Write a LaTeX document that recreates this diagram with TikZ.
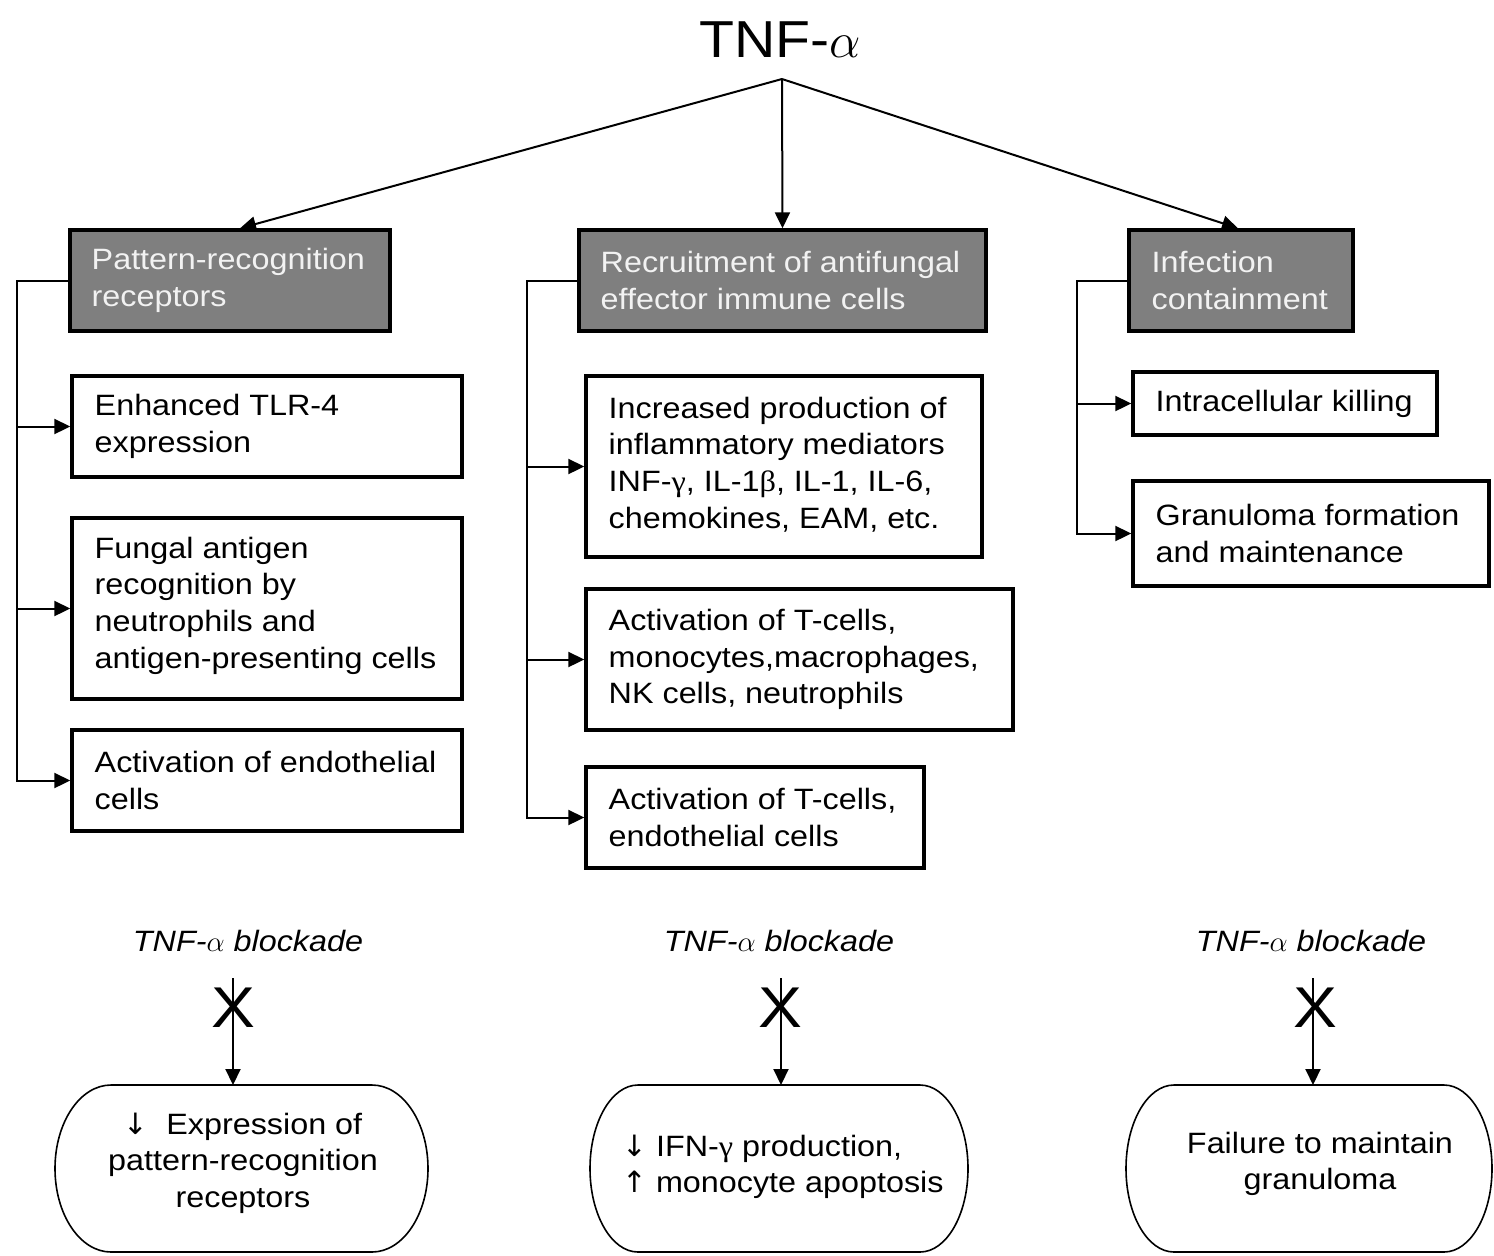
\documentclass[tikz,border=0pt]{standalone}
\usepackage{fontspec}
\usepackage{graphicx}
\setmainfont{Liberation Sans}[FakeStretch=1.1]
\newfontfamily\grk{Liberation Serif}[FakeStretch=1.1]
\newfontfamily\arrowfont{DejaVu Sans}
\usetikzlibrary{arrows.meta}
\definecolor{boxgray}{HTML}{7F7F7F}
\definecolor{boxtext}{HTML}{F2F2F2}
\newcommand\dnarr{{\arrowfont ↓}}
\newcommand\uparr{{\arrowfont ↑}}
% stadium outline: left, top, right, bottom, horizontal radius (px units)
\newcommand\stadiumpath[5]{%
  \pgfmathsetmacro\stA{#1+#5}%
  \pgfmathsetmacro\stB{#3-#5}%
  \pgfmathsetmacro\stKx{0.5523*#5}%
  \pgfmathsetmacro\stKy{0.5523*(#4-#2)/2}%
  \pgfmathsetmacro\stM{(#2+#4)/2}%
  \draw[oval] (\stA,#2) -- (\stB,#2)
    .. controls (\stB+\stKx,#2) and (#3,\stM-\stKy) .. (#3,\stM)
    .. controls (#3,\stM+\stKy) and (\stB+\stKx,#4) .. (\stB,#4)
    -- (\stA,#4)
    .. controls (\stA-\stKx,#4) and (#1,\stM+\stKy) .. (#1,\stM)
    .. controls (#1,\stM-\stKy) and (\stA-\stKx,#2) .. cycle;}
\begin{document}
\begin{tikzpicture}[x=0.5pt,y=-0.5pt,
  box/.style={draw=black, line width=1.7pt, inner sep=0pt, fill=white},
  gbox/.style={box, fill=boxgray},
  txt/.style={inner sep=0pt, align=left, anchor=west, font=\fontsize{14.7}{18.3}\selectfont},
  gtxt/.style={txt, text=boxtext},
  ctxt/.style={txt, align=center, anchor=center},
  conn/.style={line width=1pt},
  arr/.style={conn, -{Triangle[length=8pt,width=7.5pt]}},
  oval/.style={line width=0.8pt},
  blk/.style={inner sep=0pt, anchor=base, font=\fontsize{14.7}{18.3}\selectfont\itshape},
  xmark/.style={inner sep=0pt, font=\fontsize{23}{23}\selectfont}]
\useasboundingbox (0,0) rectangle (1494,1255);

% title
\node[inner sep=0pt, anchor=base, font=\fontsize{26}{30}\selectfont] (tnf) at (780,57) {TNF-$\alpha$};
\coordinate (apex) at (782,79);

% header boxes
\node[gbox, minimum width=160pt, minimum height=50.5pt] (prr) at (230,280.5) {};
\node[gtxt] (prrt) at ([xshift=11.5pt]prr.west) {Pattern-recognition\\receptors};
\node[gbox, minimum width=203.5pt, minimum height=50.5pt] (rec) at (782.5,280.5) {};
\node[gtxt] (rect) at ([xshift=11.5pt]rec.west) {Recruitment of antifungal\\effector immune cells};
\node[gbox, minimum width=112pt, minimum height=50.5pt] (inf) at (1241,280.5) {};
\node[gtxt] (inft) at ([xshift=12pt]inf.west) {Infection\\containment};

% top connectors
\draw[arr] (apex) -- ([xshift=5pt]prr.north);
\draw[arr] (apex) -- (rec.north);
\draw[arr] (apex) -- ([xshift=-1.5pt]inf.north);

% left column
\node[box, minimum width=195pt, minimum height=50.5pt] (l1) at (267,426.5) {};
\node[txt] (l1t) at ([xshift=12pt]l1.west) {Enhanced TLR-4\\expression};
\node[box, minimum width=195pt, minimum height=90.5pt] (l2) at (267,608.5) {};
\node[txt] (l2t) at ([xshift=12pt,yshift=1.5pt]l2.west) {Fungal antigen\\recognition by\\neutrophils and\\antigen-presenting cells};
\node[box, minimum width=195pt, minimum height=50.5pt] (l3) at (267,780.5) {};
\node[txt] (l3t) at ([xshift=12pt]l3.west) {Activation of endothelial\\cells};

\coordinate (LA) at (17,280.5);
\draw[arr] (prr.west) -- (LA) |- (l3.west);
\draw[arr] (l1.west -| LA) -- (l1.west);
\draw[arr] (l2.west -| LA) -- (l2.west);

% middle column
\node[box, minimum width=198pt, minimum height=90.5pt] (m1) at (784,466.5) {};
\node[txt] (m1t) at ([xshift=12pt,yshift=1pt]m1.west) {Increased production of\\inflammatory mediators\\INF-{\grk γ}, IL-1{\grk β}, IL-1, IL-6,\\chemokines, EAM, etc.};
\node[box, minimum width=213.5pt, minimum height=70.5pt] (m2) at (799.5,659.5) {};
\node[txt] (m2t) at ([xshift=12pt]m2.west) {Activation of T-cells,\\monocytes,macrophages,\\NK cells, neutrophils};
\node[box, minimum width=169pt, minimum height=50.5pt] (m3) at (755,817.5) {};
\node[txt] (m3t) at ([xshift=12pt]m3.west) {Activation of T-cells,\\endothelial cells};

\coordinate (LB) at (527,280.5);
\draw[arr] (rec.west) -- (LB) |- (m3.west);
\draw[arr] (m1.west -| LB) -- (m1.west);
\draw[arr] (m2.west -| LB) -- (m2.west);

% right column
\node[box, minimum width=152pt, minimum height=31.5pt] (r1) at (1285,403.5) {};
\node[txt] (r1t) at ([xshift=12pt]r1.west) {Intracellular killing};
\node[box, minimum width=178pt, minimum height=52.5pt] (r2) at (1311,533.5) {};
\node[txt] (r2t) at ([xshift=12pt]r2.west) {Granuloma formation\\and maintenance};

\coordinate (LC) at (1077,280.5);
\draw[arr] (inf.west) -- (LC) |- (r2.west);
\draw[arr] (r1.west -| LC) -- (r1.west);

% blockade labels
\node[blk] (k1) at (248,951) {TNF-$\alpha$ blockade};
\node[blk] (k2) at (779,951) {TNF-$\alpha$ blockade};
\node[blk] (k3) at (1311,951) {TNF-$\alpha$ blockade};

% bottom outcome shapes
\stadiumpath{55}{1085}{428}{1252}{56}
\stadiumpath{590}{1085}{968}{1252}{48}
\stadiumpath{1126}{1085}{1492}{1252}{48}
\coordinate (b1top) at (233,1085);
\coordinate (b2top) at (781,1085);
\coordinate (b3top) at (1313,1085);
\node[ctxt] (b1) at (243,1163) {\dnarr~~Expression of\\pattern-recognition\\receptors};
\node[txt] (b2) at (622,1167) {\dnarr~IFN-{\grk γ} production,\\\uparr~monocyte apoptosis};
\node[ctxt] (b3) at (1320,1164) {Failure to maintain\\granuloma};

% blocked arrows
\coordinate (s1) at (233,978);
\coordinate (s2) at (781,978);
\coordinate (s3) at (1313,978);
\draw[arr] (s1) -- (b1top);
\draw[arr] (s2) -- (b2top);
\draw[arr] (s3) -- (b3top);
\node[xmark] (x1) at (233,1008) {\scalebox{1.3}[1.25]{X}};
\node[xmark] (x2) at (780,1008) {\scalebox{1.3}[1.25]{X}};
\node[xmark] (x3) at (1315,1008) {\scalebox{1.3}[1.25]{X}};
\end{tikzpicture}
\end{document}
